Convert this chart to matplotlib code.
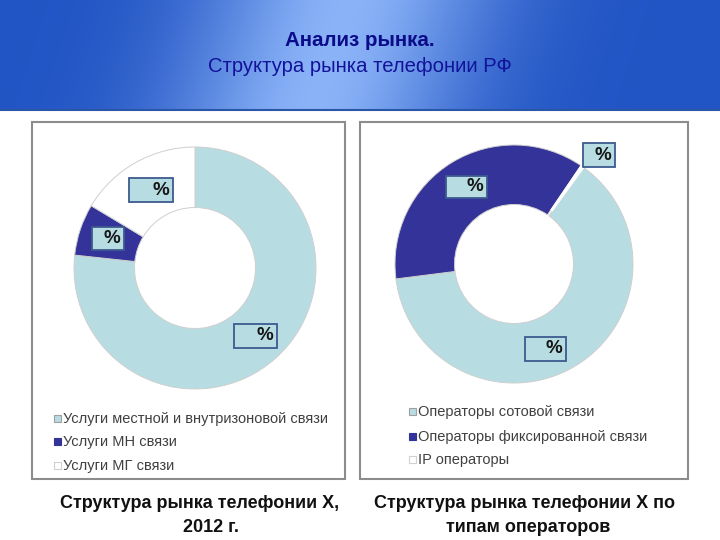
import numpy as np
import matplotlib
matplotlib.use('Agg')
import matplotlib.pyplot as plt
from matplotlib.patches import Rectangle
from matplotlib.lines import Line2D
from matplotlib import font_manager

plt.rcParams['font.family'] = ['Liberation Sans', 'DejaVu Sans']

# ---------------- data ----------------
title_main = "Анализ рынка."
title_sub = "Структура рынка телефонии РФ"

left_labels = ["Услуги местной и внутризоновой связи", "Услуги МН связи", "Услуги МГ связи"]
left_values = [76.7, 6.9, 16.4]
left_caption = ["Структура рынка телефонии Х,", "2012 г."]

right_labels = ["Операторы сотовой связи", "Операторы фиксированной связи", "IP операторы"]
right_values = [63.0, 36.5, 0.5]
right_caption = ["Структура рынка телефонии Х по", "типам операторов"]

slice_text = "%"

# ---------------- style ----------------
LIGHT = '#b7dde2'
NAVY = '#333399'
WHITE = '#ffffff'
colors = [LIGHT, NAVY, WHITE]

installed = {f.name for f in font_manager.fontManager.ttflist}
narrow = 'Liberation Sans Narrow' in installed
title_family = ['Liberation Sans Narrow', 'Liberation Sans'] if narrow else ['Liberation Sans']
title_fs_main = 17.5 if narrow else 14.8
title_fs_sub = 17.5 if narrow else 14.6

W, H = 720, 540
fig = plt.figure(figsize=(7.2, 5.4), dpi=100)


def fx(px):
    return px / W


def fy(py):
    return 1 - py / H


# header gradient
bg = fig.add_axes([0, fy(110), 1, 110 / H])
xx = np.linspace(0, 1, 500)
yy = np.linspace(0, 1, 80)
X, Y = np.meshgrid(xx, yy)
t = np.exp(-((X - 0.46 + 0.05 * (Y - 0.5)) / 0.2) ** 2)
dark = np.array([0.13, 0.33, 0.77])
light = np.array([0.54, 0.70, 0.97])
img = dark[None, None, :] * (1 - t[..., None]) + light[None, None, :] * t[..., None]
bg.imshow(img, aspect='auto', extent=[0, 1, 0, 1], origin='upper')
bg.set_xlim(0, 1)
bg.set_ylim(0, 1)
bg.axis('off')
fig.add_artist(Line2D([0, 1], [fy(110), fy(110)], transform=fig.transFigure,
                      color='#2a56a8', lw=1.5))

fig.text(0.5, fy(41), title_main, ha='center', va='center', fontsize=title_fs_main,
         fontweight='bold', color='#0c0c8a', family=title_family)
fig.text(0.5, fy(67), title_sub, ha='center', va='center', fontsize=title_fs_sub,
         color='#12129a', family=title_family)

# panel frames
for (x0, x1) in [(32, 345), (360, 688)]:
    fig.add_artist(Rectangle((fx(x0), fy(479)), (x1 - x0) / W, (479 - 122) / H,
                             transform=fig.transFigure, facecolor='none',
                             edgecolor='#8c8c8c', lw=1.5, zorder=-1))


def donut(cx, cy, R_px, values, startangle, explode, edgecols, label_r, label_dang,
          box_w, box_h):
    size = 300
    ax = fig.add_axes([fx(cx - size / 2), fy(cy + size / 2), size / W, size / H])
    ax.patch.set_alpha(0)
    wedges, _ = ax.pie(values, colors=colors, startangle=startangle, counterclock=False,
                       radius=1, explode=explode,
                       wedgeprops=dict(width=0.5, linewidth=0.7))
    for w, ec in zip(wedges, edgecols):
        w.set_edgecolor(ec)
    L = size / (2 * R_px)
    ax.set_xlim(-L, L)
    ax.set_ylim(-L, L)
    ax.set_aspect('equal')
    ax.axis('off')
    u = 1.0 / R_px  # data units per pixel
    for w, r, da, bw, bh in zip(wedges, label_r, label_dang, box_w, box_h):
        th = np.deg2rad((w.theta1 + w.theta2) / 2 + da)
        cxl, cyl = r * np.cos(th), r * np.sin(th)
        ax.add_patch(Rectangle((cxl - bw * u / 2, cyl - bh * u / 2), bw * u, bh * u,
                               facecolor=LIGHT, edgecolor='#3d5a8e', lw=1.3, zorder=5))
        ax.text(cxl + bw * u / 2 - 4 * u, cyl, slice_text, ha='right', va='center',
                fontsize=13.5, fontweight='bold', color='#151515', zorder=6)
    return ax


donut(195, 268, 121, left_values, 90, [0, 0, 0], ['#cfcfcf', '#cfcfcf', '#cfcfcf'],
      [0.75, 0.76, 0.74], [0, 0, 0], [43, 32, 44], [24, 23, 24])

donut(514, 264, 119, right_values, 54, [0, 0, 0.05], ['#cfcfcf', '#cfcfcf', 'white'],
      [0.76, 0.76, 1.16], [-10, 0, -3], [41, 41, 32], [24, 22, 24])


def legend(x_marker, x_text, ys, labels):
    for y, lab, c in zip(ys, labels, colors):
        ec = '#a0a0a0' if c != NAVY else NAVY
        if c == WHITE:
            ec = '#d0d0d0'
        fig.add_artist(Rectangle((fx(x_marker), fy(y + 2.5)), 7 / W, 7 / H,
                                 transform=fig.transFigure, facecolor=c,
                                 edgecolor=ec, lw=0.8))
        fig.text(fx(x_text), fy(y), lab, ha='left', va='center', fontsize=10.5,
                 color='#404040')


legend(54, 63, [419, 442, 466], left_labels)
legend(409, 418, [412, 437, 460], right_labels)

fig.text(fx(200), fy(503), left_caption[0], ha='center', va='center', fontsize=13,
         fontweight='bold', color='#111111')
fig.text(fx(211), fy(527), left_caption[1], ha='center', va='center', fontsize=13,
         fontweight='bold', color='#111111')
fig.text(fx(525), fy(503), right_caption[0], ha='center', va='center', fontsize=13,
         fontweight='bold', color='#111111')
fig.text(fx(528), fy(527), right_caption[1], ha='center', va='center', fontsize=13,
         fontweight='bold', color='#111111')

fig.savefig('out.png', dpi=100)
